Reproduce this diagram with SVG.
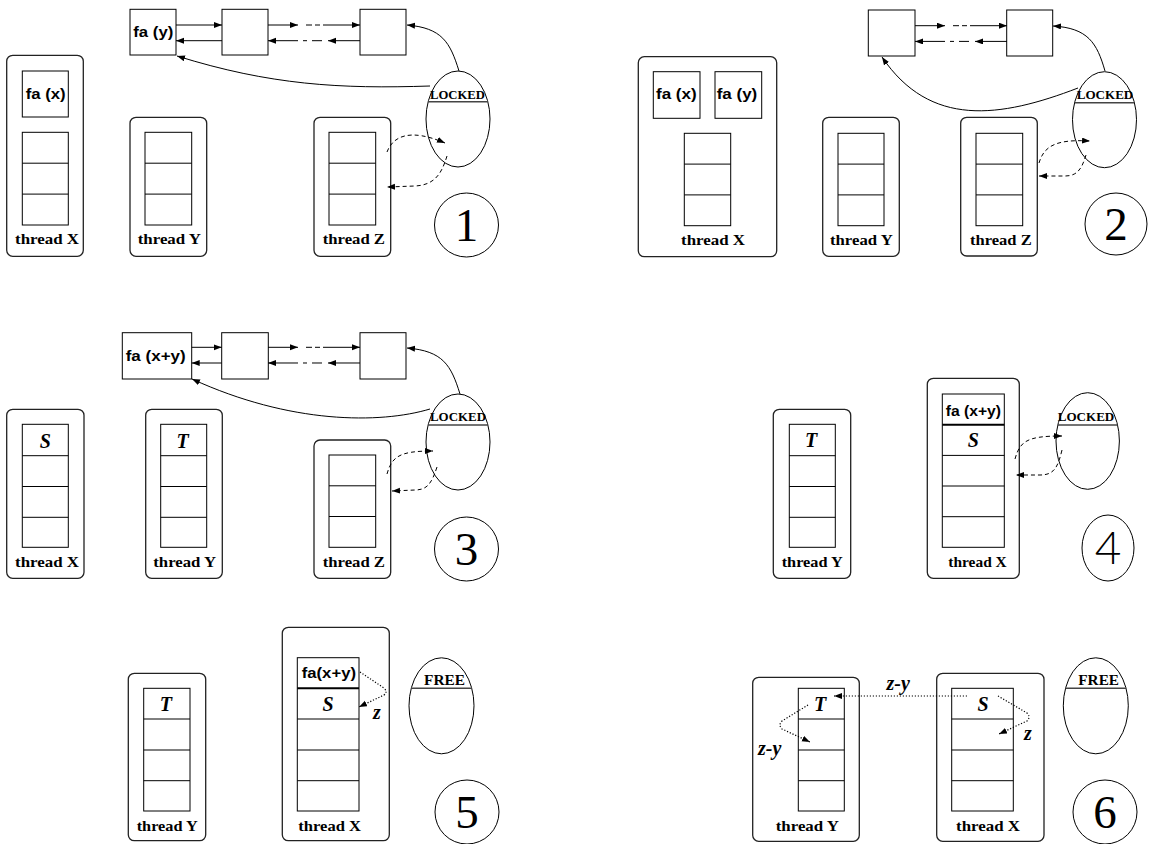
<svg xmlns="http://www.w3.org/2000/svg" width="1151" height="844" viewBox="0 0 1151 844">
<style>
.bx{fill:#fff;stroke:#000;stroke-width:1}
.rr{fill:none;stroke:#222;stroke-width:1.3}
.ln{fill:none;stroke:#000;stroke-width:1}
.thk{fill:none;stroke:#000;stroke-width:2}
.ul{fill:none;stroke:#444;stroke-width:1.6}
.da{fill:none;stroke:#000;stroke-width:1;stroke-dasharray:4 3}
.do{fill:none;stroke:#000;stroke-width:1.2;stroke-dasharray:1.2 1.8}
.fa{font-family:"Liberation Sans",Arial,sans-serif;font-weight:bold;font-size:15.5px;fill:#000}
.thr{font-family:"Liberation Serif","Times New Roman",serif;font-weight:bold;font-size:15.5px;fill:#000}
.st{font-family:"Liberation Serif","Times New Roman",serif;font-weight:bold;font-style:italic;font-size:20px;text-anchor:middle;fill:#000}
.lb{font-family:"Liberation Serif","Times New Roman",serif;font-weight:bold;font-style:italic;font-size:20px;fill:#000}
.lk{font-family:"Liberation Serif","Times New Roman",serif;font-weight:bold;font-size:12.5px;fill:#000}
.fr{font-family:"Liberation Serif","Times New Roman",serif;font-weight:bold;font-size:14px;fill:#000}
.num{font-family:"Liberation Serif","Times New Roman",serif;font-size:47px;text-anchor:middle;fill:#000}
.num4{font-family:Lato,"Liberation Sans",sans-serif;font-weight:300;font-size:46px;text-anchor:middle;fill:#000}
</style>
<defs>
<marker id="ah" markerUnits="userSpaceOnUse" markerWidth="9" markerHeight="7" refX="8" refY="3" orient="auto">
<path d="M0,0 L8,3 L0,6 z" fill="#000"/>
</marker>
<g id="midarrows">
<line class="ln" x1="0" y1="0" x2="30" y2="0" marker-end="url(#ah)"/>
<line class="ln" x1="38" y1="0" x2="44" y2="0"/>
<line class="ln" x1="47" y1="0" x2="52" y2="0"/>
<line class="ln" x1="55" y1="0" x2="92" y2="0" marker-end="url(#ah)"/>
<line class="ln" x1="30" y1="15.7" x2="0" y2="15.7" marker-end="url(#ah)"/>
<line class="ln" x1="35" y1="15.7" x2="39" y2="15.7"/>
<line class="ln" x1="44" y1="15.7" x2="54" y2="15.7"/>
<line class="ln" x1="92" y1="15.7" x2="60" y2="15.7" marker-end="url(#ah)"/>
</g>
</defs>
<rect width="1151" height="844" fill="#fff"/>

<!-- ===== Panel 1 ===== -->
<g id="p1">
<g id="p1-list1"><rect class="bx" x="130" y="9.3" width="46" height="45.7"/><text class="fa" x="133.3" y="36.7" textLength="40" lengthAdjust="spacingAndGlyphs">fa (y)</text></g>
<g id="p1-list2"><rect class="bx" x="222" y="9.3" width="46" height="45.7"/></g>
<g id="p1-list3"><rect class="bx" x="360" y="9.3" width="46" height="45.7"/></g>
<g id="p1-lock"><ellipse class="ln" cx="458" cy="119" rx="32" ry="48"/><line class="ul" x1="428.2" y1="101.7" x2="487.8" y2="101.7"/><text class="lk" x="430" y="98.5" textLength="55" lengthAdjust="spacingAndGlyphs">LOCKED</text></g>
<g id="p1-threadX"><rect class="rr" x="6.7" y="55.3" width="76.6" height="201" rx="6"/>
<rect class="bx" x="22.3" y="71" width="46" height="46"/><text class="fa" x="25.7" y="99" textLength="40" lengthAdjust="spacingAndGlyphs">fa (x)</text>
<rect class="bx" x="22.3" y="132.3" width="46" height="92.7"/><line class="ln" x1="22.3" y1="163.2" x2="68.3" y2="163.2"/><line class="ln" x1="22.3" y1="194.1" x2="68.3" y2="194.1"/>
<text class="thr" x="15" y="244" textLength="64" lengthAdjust="spacingAndGlyphs">thread X</text></g>
<g id="p1-threadY"><rect class="rr" x="130" y="117.3" width="76.7" height="139" rx="6"/>
<rect class="bx" x="145" y="132.3" width="46.7" height="92.7"/><line class="ln" x1="145" y1="163.2" x2="191.7" y2="163.2"/><line class="ln" x1="145" y1="194.1" x2="191.7" y2="194.1"/>
<text class="thr" x="137.7" y="244" textLength="63.3" lengthAdjust="spacingAndGlyphs">thread Y</text></g>
<g id="p1-threadZ"><rect class="rr" x="314" y="117.3" width="76.7" height="139" rx="6"/>
<rect class="bx" x="329" y="132.3" width="46.7" height="92.7"/><line class="ln" x1="329" y1="163.2" x2="375.7" y2="163.2"/><line class="ln" x1="329" y1="194.1" x2="375.7" y2="194.1"/>
<text class="thr" x="322.7" y="244" textLength="62.3" lengthAdjust="spacingAndGlyphs">thread Z</text></g>
<g id="p1-num"><circle class="ln" cx="466.5" cy="225" r="32"/><text class="num" x="466.5" y="241">1</text></g>
</g>

<!-- ===== Panel 2 ===== -->
<g id="p2">
<g id="p2-list1"><rect class="bx" x="868.3" y="10" width="46.7" height="46"/></g>
<g id="p2-list2"><rect class="bx" x="1006.7" y="10" width="46" height="46"/></g>
<g id="p2-lock"><ellipse class="ln" cx="1104.5" cy="119.7" rx="32" ry="48"/><line class="ul" x1="1074.6" y1="102.7" x2="1134.4" y2="102.7"/><text class="lk" x="1076.7" y="99.3" textLength="56.6" lengthAdjust="spacingAndGlyphs">LOCKED</text></g>
<g id="p2-threadX"><rect class="rr" x="638.3" y="56.7" width="138.4" height="200" rx="6"/>
<rect class="bx" x="653.3" y="71.7" width="46.7" height="46.6"/><text class="fa" x="656" y="99.3" textLength="40.7" lengthAdjust="spacingAndGlyphs">fa (x)</text>
<rect class="bx" x="715" y="71.7" width="46.7" height="46.6"/><text class="fa" x="716.7" y="99.3" textLength="40.6" lengthAdjust="spacingAndGlyphs">fa (y)</text>
<rect class="bx" x="684.3" y="133.3" width="46.4" height="92.4"/><line class="ln" x1="684.3" y1="164.1" x2="730.7" y2="164.1"/><line class="ln" x1="684.3" y1="194.9" x2="730.7" y2="194.9"/>
<text class="thr" x="681" y="245" textLength="64" lengthAdjust="spacingAndGlyphs">thread X</text></g>
<g id="p2-threadY"><rect class="rr" x="822.7" y="117.3" width="76.6" height="139" rx="6"/>
<rect class="bx" x="838" y="133.3" width="46" height="92.4"/><line class="ln" x1="838" y1="164.1" x2="884" y2="164.1"/><line class="ln" x1="838" y1="194.9" x2="884" y2="194.9"/>
<text class="thr" x="830" y="245" textLength="62.7" lengthAdjust="spacingAndGlyphs">thread Y</text></g>
<g id="p2-threadZ"><rect class="rr" x="960.7" y="117.3" width="76.6" height="138.7" rx="6"/>
<rect class="bx" x="976" y="133.3" width="46.7" height="92.4"/><line class="ln" x1="976" y1="164.1" x2="1022.7" y2="164.1"/><line class="ln" x1="976" y1="194.9" x2="1022.7" y2="194.9"/>
<text class="thr" x="970" y="245" textLength="61.7" lengthAdjust="spacingAndGlyphs">thread Z</text></g>
<g id="p2-num"><circle class="ln" cx="1116" cy="224" r="31"/><text class="num" x="1116" y="240">2</text></g>
</g>

<!-- ===== Panel 3 ===== -->
<g id="p3">
<g id="p3-list1"><rect class="bx" x="122.3" y="332.7" width="69.4" height="46.3"/><text class="fa" x="125.7" y="361" textLength="60" lengthAdjust="spacingAndGlyphs">fa (x+y)</text></g>
<g id="p3-list2"><rect class="bx" x="221.7" y="332.7" width="46.6" height="46.3"/></g>
<g id="p3-list3"><rect class="bx" x="360" y="332.7" width="46" height="46.3"/></g>
<g id="p3-lock"><ellipse class="ln" cx="458" cy="442" rx="32" ry="48"/><line class="ul" x1="428.1" y1="425" x2="487.9" y2="425"/><text class="lk" x="430" y="420.7" textLength="56" lengthAdjust="spacingAndGlyphs">LOCKED</text></g>
<g id="p3-threadX"><rect class="rr" x="6.7" y="409.3" width="77.3" height="169" rx="6"/>
<rect class="bx" x="22.3" y="424.3" width="46" height="123"/><line class="ln" x1="22.3" y1="455.7" x2="68.3" y2="455.7"/><line class="ln" x1="22.3" y1="486.5" x2="68.3" y2="486.5"/><line class="ln" x1="22.3" y1="517.3" x2="68.3" y2="517.3"/>
<text class="st" x="45.3" y="447.7">S</text>
<text class="thr" x="15" y="566.7" textLength="64" lengthAdjust="spacingAndGlyphs">thread X</text></g>
<g id="p3-threadY"><rect class="rr" x="145.7" y="409.3" width="76.6" height="169" rx="6"/>
<rect class="bx" x="160.7" y="424.3" width="46" height="123"/><line class="ln" x1="160.7" y1="455.7" x2="206.7" y2="455.7"/><line class="ln" x1="160.7" y1="486.5" x2="206.7" y2="486.5"/><line class="ln" x1="160.7" y1="517.3" x2="206.7" y2="517.3"/>
<text class="st" x="182.5" y="447.7">T</text>
<text class="thr" x="153.3" y="566.7" textLength="62.7" lengthAdjust="spacingAndGlyphs">thread Y</text></g>
<g id="p3-threadZ"><rect class="rr" x="314" y="440" width="76.7" height="138.3" rx="6"/>
<rect class="bx" x="329" y="455" width="46.7" height="92.3"/><line class="ln" x1="329" y1="485.8" x2="375.7" y2="485.8"/><line class="ln" x1="329" y1="516.5" x2="375.7" y2="516.5"/>
<text class="thr" x="322.7" y="566.7" textLength="62.3" lengthAdjust="spacingAndGlyphs">thread Z</text></g>
<g id="p3-num"><circle class="ln" cx="466.5" cy="549" r="32"/><text class="num" x="466.5" y="565">3</text></g>
</g>

<!-- ===== Panel 4 ===== -->
<g id="p4">
<g id="p4-threadY"><rect class="rr" x="773.3" y="409.3" width="77.4" height="169" rx="6"/>
<rect class="bx" x="789.3" y="424.3" width="46" height="123"/><line class="ln" x1="789.3" y1="455.7" x2="835.3" y2="455.7"/><line class="ln" x1="789.3" y1="486.5" x2="835.3" y2="486.5"/><line class="ln" x1="789.3" y1="517.3" x2="835.3" y2="517.3"/>
<text class="st" x="811" y="447.3">T</text>
<text class="thr" x="781.7" y="566.7" textLength="61" lengthAdjust="spacingAndGlyphs">thread Y</text></g>
<g id="p4-threadX"><rect class="rr" x="927.3" y="378.3" width="92" height="200" rx="6"/>
<rect class="bx" x="942.3" y="394" width="62" height="153.3"/><line class="thk" x1="942.3" y1="424.7" x2="1004.3" y2="424.7"/><line class="ln" x1="942.3" y1="455.4" x2="1004.3" y2="455.4"/><line class="ln" x1="942.3" y1="486" x2="1004.3" y2="486"/><line class="ln" x1="942.3" y1="516.7" x2="1004.3" y2="516.7"/>
<text class="fa" x="945.7" y="416" textLength="55.3" lengthAdjust="spacingAndGlyphs">fa (x+y)</text>
<text class="st" x="973.3" y="447.3">S</text>
<text class="thr" x="948.3" y="566.7" textLength="58.4" lengthAdjust="spacingAndGlyphs">thread X</text></g>
<g id="p4-lock"><ellipse class="ln" cx="1087.7" cy="441" rx="31.7" ry="48.3"/><line class="ul" x1="1057.8" y1="425" x2="1117.6" y2="425"/><text class="lk" x="1057.7" y="421" textLength="56.6" lengthAdjust="spacingAndGlyphs">LOCKED</text></g>
<g id="p4-num"><ellipse class="ln" cx="1108" cy="548" rx="26" ry="33"/><text class="num4" x="1108" y="563.5">4</text></g>
</g>

<!-- ===== Panel 5 ===== -->
<g id="p5">
<g id="p5-threadY"><rect class="rr" x="128.3" y="673.3" width="77.4" height="167.4" rx="6"/>
<rect class="bx" x="143.7" y="688.3" width="46.3" height="122.7"/><line class="ln" x1="143.7" y1="719" x2="190" y2="719"/><line class="ln" x1="143.7" y1="750" x2="190" y2="750"/><line class="ln" x1="143.7" y1="780.7" x2="190" y2="780.7"/>
<text class="st" x="165.8" y="710.7">T</text>
<text class="thr" x="136.7" y="830.7" textLength="61" lengthAdjust="spacingAndGlyphs">thread Y</text></g>
<g id="p5-threadX"><rect class="rr" x="282.3" y="627.3" width="107" height="213.4" rx="6"/>
<rect class="bx" x="297.3" y="657.7" width="61.7" height="153.3"/><line class="thk" x1="297.3" y1="688.3" x2="359" y2="688.3"/><line class="ln" x1="297.3" y1="719" x2="359" y2="719"/><line class="ln" x1="297.3" y1="750" x2="359" y2="750"/><line class="ln" x1="297.3" y1="780.7" x2="359" y2="780.7"/>
<text class="fa" x="301.7" y="678.3" textLength="54.3" lengthAdjust="spacingAndGlyphs">fa(x+y)</text>
<text class="st" x="328" y="710.7">S</text>
<text class="thr" x="298.3" y="830.7" textLength="62.7" lengthAdjust="spacingAndGlyphs">thread X</text></g>
<g id="p5-free"><ellipse class="ln" cx="441.5" cy="705.8" rx="32.5" ry="48"/><line class="ul" x1="411.2" y1="688.3" x2="471.8" y2="688.3"/><text class="fr" x="424" y="685" textLength="41" lengthAdjust="spacingAndGlyphs">FREE</text></g>
<text class="lb" x="373" y="719">z</text>
<g id="p5-num"><circle class="ln" cx="467" cy="812" r="32"/><text class="num" x="467" y="828">5</text></g>
</g>

<!-- ===== Panel 6 ===== -->
<g id="p6">
<g id="p6-threadY"><rect class="rr" x="752.7" y="677.3" width="106.6" height="164" rx="6"/>
<rect class="bx" x="798.3" y="688.3" width="46" height="122.7"/><line class="ln" x1="798.3" y1="719" x2="844.3" y2="719"/><line class="ln" x1="798.3" y1="750" x2="844.3" y2="750"/><line class="ln" x1="798.3" y1="780.7" x2="844.3" y2="780.7"/>
<text class="st" x="820" y="710.7">T</text>
<text class="thr" x="775.7" y="830.7" textLength="63.3" lengthAdjust="spacingAndGlyphs">thread Y</text></g>
<g id="p6-threadX"><rect class="rr" x="936.7" y="673.3" width="107.3" height="168" rx="6"/>
<rect class="bx" x="951.7" y="688.3" width="61.6" height="122.7"/><line class="ln" x1="951.7" y1="719" x2="1013.3" y2="719"/><line class="ln" x1="951.7" y1="750" x2="1013.3" y2="750"/><line class="ln" x1="951.7" y1="780.7" x2="1013.3" y2="780.7"/>
<text class="st" x="983" y="710.7">S</text>
<text class="thr" x="956" y="830.7" textLength="64" lengthAdjust="spacingAndGlyphs">thread X</text></g>
<g id="p6-free"><ellipse class="ln" cx="1095.8" cy="705.8" rx="32.5" ry="48"/><line class="ul" x1="1065.5" y1="688.3" x2="1126.1" y2="688.3"/><text class="fr" x="1078.3" y="685" textLength="40.7" lengthAdjust="spacingAndGlyphs">FREE</text></g>
<text class="lb" x="886.5" y="690">z-y</text>
<text class="lb" x="1024" y="740">z</text>
<text class="lb" x="758" y="755">z-y</text>
<g id="p6-num"><circle class="ln" cx="1105" cy="812" r="32"/><text class="num" x="1105" y="828">6</text></g>
</g>

<!-- ===== Connectors ===== -->
<g id="connectors">
<!-- panel 1 -->
<line class="ln" x1="176" y1="25" x2="222" y2="25" marker-end="url(#ah)"/>
<line class="ln" x1="222" y1="40.7" x2="176" y2="40.7" marker-end="url(#ah)"/>
<use href="#midarrows" transform="translate(268,25)"/>
<path class="ln" d="M459,71 C450,42 442,28 407,25" marker-end="url(#ah)"/>
<path class="ln" d="M430,86 C340,89 270,85 177,56" marker-end="url(#ah)"/>
<path class="da" d="M387,152 C393,136 410,128 445,143" marker-end="url(#ah)"/>
<path class="da" d="M447,156 C442,172 436,185 415,186 L387,187" marker-end="url(#ah)"/>
<!-- panel 2 -->
<use href="#midarrows" transform="translate(915,25.7)"/>
<path class="ln" d="M1105,71 C1097,43 1088,28 1053,26" marker-end="url(#ah)"/>
<path class="ln" d="M1078,88 C1000,118 930,128 882,57" marker-end="url(#ah)"/>
<path class="da" d="M1039,163 C1044,146 1056,139 1090,141" marker-end="url(#ah)"/>
<path class="da" d="M1086,155 C1082,168 1078,176 1065,176 L1039,176" marker-end="url(#ah)"/>
<!-- panel 3 -->
<line class="ln" x1="191.7" y1="347.3" x2="221.7" y2="347.3" marker-end="url(#ah)"/>
<line class="ln" x1="221.7" y1="363" x2="191.7" y2="363" marker-end="url(#ah)"/>
<use href="#midarrows" transform="translate(268,347.3)"/>
<path class="ln" d="M460,394 C451,365 443,351 407,348" marker-end="url(#ah)"/>
<path class="ln" d="M430,409 C380,424 290,424 192,379" marker-end="url(#ah)"/>
<path class="da" d="M387,474 C392,456 400,451 433,451" marker-end="url(#ah)"/>
<path class="da" d="M437,467 C432,482 428,490 415,490 L392,491" marker-end="url(#ah)"/>
<!-- panel 4 -->
<path class="da" d="M1015,459 C1020,441 1027,436 1062,436" marker-end="url(#ah)"/>
<path class="da" d="M1062,450 C1058,466 1055,475 1040,475 L1016,475" marker-end="url(#ah)"/>
<!-- panel 5 -->
<path class="do" d="M360,672 L384,688 Q388,692 384,695 L359,707" marker-end="url(#ah)"/>
<!-- panel 6 -->
<path class="do" d="M967,696 L834,696" marker-end="url(#ah)"/>
<path class="do" d="M998,696 L1027,713 Q1031,717 1027,721 L999,734" marker-end="url(#ah)"/>
<path class="do" d="M808,705 L782,721 Q778,725 782,729 L810,742" marker-end="url(#ah)"/>
</g>
</svg>
